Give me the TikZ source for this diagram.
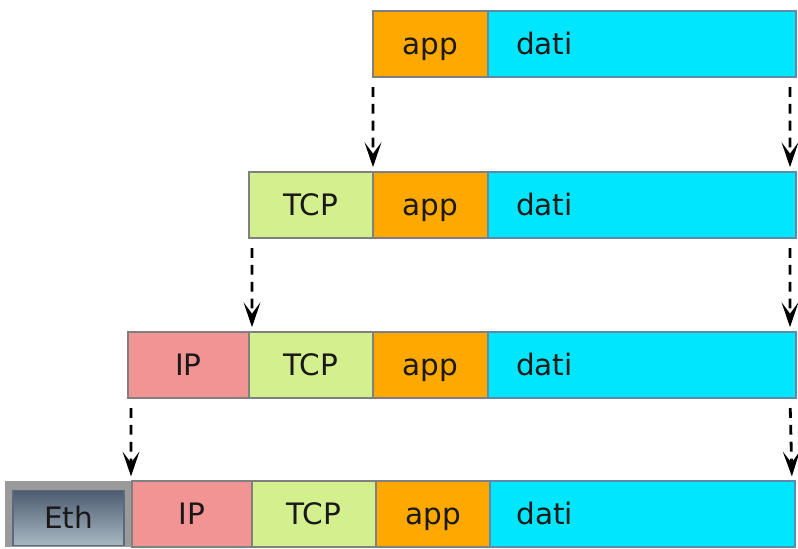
\documentclass[tikz,border=0pt]{standalone}
\usepackage{fontspec}
\setmainfont{DejaVu Sans}
\usetikzlibrary{positioning,arrows.meta}

\definecolor{appcol}{HTML}{FFA800}
\definecolor{daticol}{HTML}{00E6FF}
\definecolor{tcpcol}{HTML}{D4F08E}
\definecolor{ipcol}{HTML}{F29494}
\definecolor{edgecol}{HTML}{808080}
\definecolor{datiedge}{HTML}{5C8AAA}
\definecolor{ethtop}{HTML}{4C5B70}
\definecolor{ethbot}{HTML}{A8B8C2}
\definecolor{ethedge}{HTML}{5A6A7C}
\definecolor{ethframe}{HTML}{9A9A9A}

\tikzset{
  field/.style={draw=edgecol, line width=1.3pt, minimum height=1.65cm, inner sep=0pt, outer sep=0pt,
    text=black!90, font=\fontsize{21}{24}\selectfont, text height=18pt, text depth=2.7pt},
  appfield/.style={field, fill=appcol, minimum width=#1},
  datifield/.style={field, fill=daticol, draw=datiedge, minimum width=#1, text width=6.3cm, inner xsep=0.65cm, align=left},
  tcpfield/.style={field, fill=tcpcol, minimum width=#1},
  ipfield/.style={field, fill=ipcol, minimum width=#1},
  flow/.style={line width=2pt, dash pattern=on 7pt off 5pt, shorten <=0.25cm, shorten >=0.12cm,
    -{Stealth[length=0.62cm, width=0.42cm, inset=0.28cm]}},
}

\begin{document}
\begin{tikzpicture}
        \useasboundingbox (0,0) rectangle (19.95,-13.7);

        % Application message
        \node[appfield=2.875cm, anchor=north west] (app1) at (9.325,-0.275) {app};
        \node[datifield=7.7cm, right=0pt of app1] (dati1) {dati};

        % TCP segment
        \node[tcpfield=3.1cm, anchor=north west] (tcp2) at (6.225,-4.3) {TCP};
        \node[appfield=2.875cm, right=0pt of tcp2] (app2) {app};
        \node[datifield=7.7cm, right=0pt of app2] (dati2) {dati};

        % IP datagram
        \node[ipfield=3.025cm, anchor=north west] (ip3) at (3.2,-8.3) {IP};
        \node[tcpfield=3.1cm, right=0pt of ip3] (tcp3) {TCP};
        \node[appfield=2.875cm, right=0pt of tcp3] (app3) {app};
        \node[datifield=7.7cm, right=0pt of app3] (dati3) {dati};

        % Ethernet frame
        \node[fill=ethframe, minimum width=3.175cm, minimum height=1.65cm, inner sep=0pt, outer sep=0pt,
          anchor=north west] (frame4) at (0.125,-12.03) {};
        \node[field, draw=ethedge, line width=0.8pt, top color=ethtop, bottom color=ethbot,
          minimum width=2.775cm, minimum height=1.375cm, anchor=south] (eth4) at ([yshift=0.05cm]frame4.south) {Eth};
        \node[ipfield=3.0cm, right=0pt of frame4] (ip4) {IP};
        \node[tcpfield=3.1cm, right=0pt of ip4] (tcp4) {TCP};
        \node[appfield=2.85cm, right=0pt of tcp4] (app4) {app};
        \node[datifield=7.625cm, right=0pt of app4] (dati4) {dati};

        % Encapsulation arrows
        \draw[flow] (app1.south west) -- (tcp2.north east);
        \draw[flow] ([xshift=-0.15cm]dati1.south east) -- ([xshift=-0.15cm]dati2.north east);

        \draw[flow] ([xshift=0.075cm]tcp2.south west) -- ([xshift=0.075cm]ip3.north east);
        \draw[flow] ([xshift=-0.15cm]dati2.south east) -- ([xshift=-0.15cm]dati3.north east);

        \draw[flow] ([xshift=0.075cm]ip3.south west) -- ([xshift=-0.025cm]ip4.north west);
        \draw[flow] ([xshift=-0.15cm]dati3.south east) -- ([xshift=-0.075cm]dati4.north east);
\end{tikzpicture}
\end{document}
